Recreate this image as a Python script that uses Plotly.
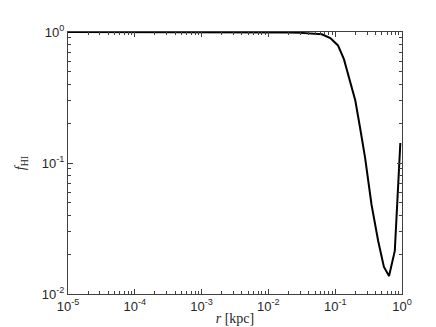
import plotly.graph_objects as go

# data
r_kpc = [1e-5, 1e-4, 1e-3, 3e-3, 1e-2, 2e-2, 3e-2, 4.5e-2, 0.063, 0.0845, 0.11,
         0.135, 0.158, 0.2, 0.236, 0.28, 0.35, 0.44, 0.536, 0.64, 0.78, 0.944]
f_HI = [1.0, 1.0, 1.0, 0.999, 0.997, 0.993, 0.985, 0.975, 0.96, 0.90, 0.79,
        0.62, 0.47, 0.30, 0.185, 0.11, 0.048, 0.0254, 0.0161, 0.0137, 0.0213, 0.142]

x_tickvals = [1e-5, 1e-4, 1e-3, 1e-2, 1e-1, 1]
x_ticktext = ["10<sup>-5</sup>", "10<sup>-4</sup>", "10<sup>-3</sup>",
              "10<sup>-2</sup>", "10<sup>-1</sup>", "10<sup>0</sup>"]
y_tickvals = [1e-2, 1e-1, 1]
y_ticktext = ["10<sup>-2</sup>", "10<sup>-1</sup>", "10<sup>0</sup>"]

x_minor = [m * 10.0 ** e for e in range(-5, 0) for m in range(2, 10)]
y_minor = [m * 10.0 ** e for e in range(-2, 0) for m in range(2, 10)]

AX = "#404040"
tickfont = dict(family="Liberation Sans, Arial, sans-serif", size=13, color="#262626")
titlefont = dict(family="Liberation Serif, DejaVu Serif, serif", size=14, color="#262626")

fig = go.Figure()
fig.add_trace(go.Scatter(x=r_kpc, y=f_HI, mode="lines",
                         line=dict(color="black", width=2), showlegend=False,
                         hoverinfo="skip"))
# invisible trace to carry the minor-tick overlay axes
fig.add_trace(go.Scatter(x=r_kpc, y=f_HI, mode="lines", xaxis="x2", yaxis="y2",
                         line=dict(color="rgba(0,0,0,0)", width=0), showlegend=False,
                         hoverinfo="skip"))

common = dict(type="log", showgrid=False, zeroline=False)

fig.update_layout(
    width=436, height=327,
    margin=dict(l=57, r=42, t=24, b=41),
    paper_bgcolor="white", plot_bgcolor="white",
    xaxis=dict(**common, range=[-5, 0], tickvals=x_tickvals, ticktext=x_ticktext,
               showline=True, linecolor=AX, linewidth=1, mirror="ticks",
               ticks="inside", ticklen=5, tickcolor=AX, tickwidth=1, tickfont=tickfont,
               title=dict(text="<i>r</i> [kpc]", standoff=0, font=titlefont)),
    yaxis=dict(**common, range=[-2, 0], tickvals=y_tickvals, ticktext=y_ticktext,
               showline=True, linecolor=AX, linewidth=1, mirror="ticks",
               ticks="inside", ticklen=5, tickcolor=AX, tickwidth=1, tickfont=tickfont,
               title=dict(text="<i>f</i><sub>HI</sub>", standoff=12, font=titlefont)),
    xaxis2=dict(**common, range=[-5, 0], overlaying="x", tickvals=x_minor,
                showticklabels=False, showline=False, mirror="ticks",
                ticks="inside", ticklen=3, tickcolor=AX, tickwidth=1),
    yaxis2=dict(**common, range=[-2, 0], overlaying="y", tickvals=y_minor,
                showticklabels=False, showline=False, mirror="ticks",
                ticks="inside", ticklen=3, tickcolor=AX, tickwidth=1),
)

fig.write_html("out.html")
